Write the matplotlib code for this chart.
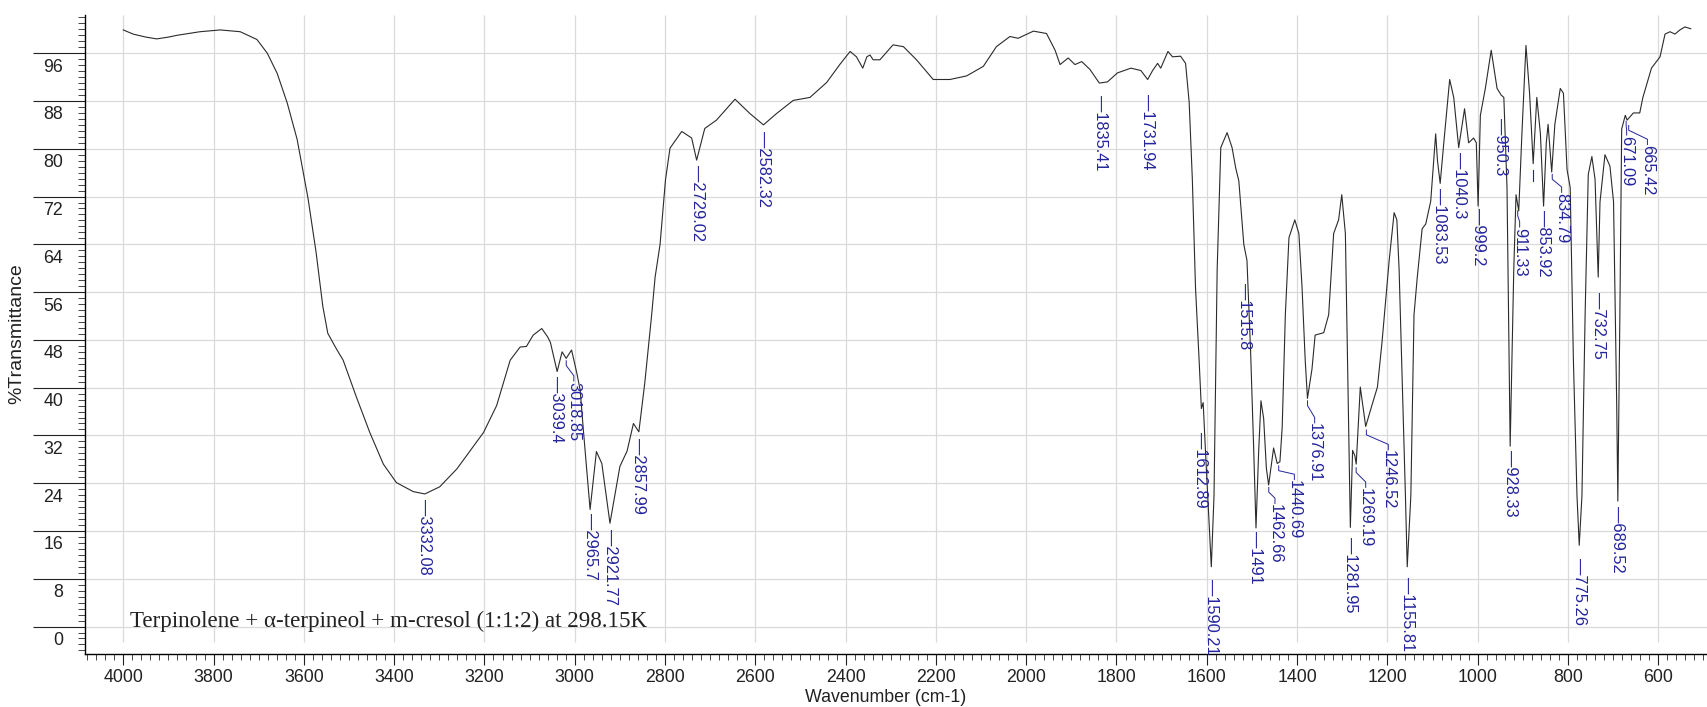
#FTIR spectrum of terpinolene + alpha-terpineol + m-cresol, OMNIC-like look
import matplotlib
matplotlib.use("Agg")
import matplotlib.pyplot as plt
from matplotlib.ticker import MultipleLocator
from matplotlib.transforms import ScaledTranslation

#spectrum (cm-1, %T)
wavenumber = [4000, 3978, 3950, 3926, 3900, 3881, 3830, 3785, 3741, 3704, 3681, 3659, 3637, 3615,
              3602, 3591, 3573, 3558, 3547, 3528, 3513, 3484, 3454, 3424, 3395, 3358, 3332, 3299,
              3261, 3232, 3202, 3173, 3143, 3121, 3107, 3092, 3073, 3060, 3054, 3039, 3028, 3019,
              3007, 2995, 2988, 2981, 2966, 2952, 2940, 2922, 2900, 2884, 2870, 2858, 2845, 2830,
              2822, 2811, 2799, 2789, 2763, 2741, 2730, 2712, 2686, 2645, 2612, 2582, 2553, 2516,
              2479, 2442, 2413, 2390, 2376, 2362, 2353, 2346, 2339, 2324, 2295, 2272, 2243, 2206,
              2169, 2132, 2095, 2066, 2036, 2018, 1984, 1955, 1936, 1925, 1907, 1892, 1877, 1859,
              1838, 1820, 1798, 1768, 1746, 1731, 1720, 1709, 1702, 1686, 1676, 1658, 1647, 1639,
              1632, 1625, 1617, 1612, 1608, 1603, 1595, 1590, 1584, 1577, 1569, 1555, 1544, 1536,
              1529, 1518, 1511, 1503, 1496, 1491, 1485, 1480, 1474, 1468, 1463, 1452, 1444, 1438,
              1433, 1426, 1418, 1405, 1396, 1389, 1382, 1377, 1367, 1360, 1341, 1330, 1319, 1308,
              1301, 1293, 1290, 1282, 1277, 1272, 1269, 1260, 1248, 1234, 1222, 1212, 1196, 1185,
              1179, 1174, 1167, 1160, 1156, 1148, 1141, 1134, 1123, 1115, 1104, 1093, 1089, 1083,
              1075, 1062, 1053, 1042, 1029, 1020, 1009, 1003, 999, 994, 983, 970, 957, 948,
              942, 935, 928, 920, 915, 909, 902, 893, 885, 877, 869, 861, 854, 848,
              844, 836, 829, 817, 810, 802, 795, 788, 780, 775, 769, 762, 755, 747,
              740, 733, 729, 718, 707, 699, 692, 689.5, 685, 681, 673, 669, 655, 641,
              634, 615, 596, 585, 574, 563, 552, 541, 528]
transmittance = [99.9, 99.2, 98.7, 98.4, 98.7, 99.0, 99.6, 99.9, 99.6, 98.3, 96.0, 92.6, 87.7, 81.6,
                 76.3, 71.8, 62.7, 53.6, 49.1, 46.5, 44.6, 38.5, 32.5, 27.2, 24.1, 22.6, 22.2, 23.4,
                 26.4, 29.4, 32.5, 37.0, 44.6, 46.8, 46.9, 48.8, 49.9, 48.5, 47.6, 42.7, 46.0, 44.9,
                 46.3, 42.3, 39.6, 33.0, 19.6, 29.3, 27.3, 17.3, 26.8, 29.4, 34.0, 32.6, 40.7, 51.9,
                 58.5, 64.0, 74.8, 80.1, 82.9, 81.8, 78.1, 83.4, 84.8, 88.3, 85.9, 84.0, 85.9, 88.1,
                 88.6, 91.1, 94.1, 96.3, 95.4, 93.5, 95.4, 95.7, 94.9, 94.9, 97.4, 97.1, 94.9, 91.6,
                 91.6, 92.2, 93.8, 97.1, 98.8, 98.5, 99.7, 99.3, 96.5, 94.1, 95.2, 94.1, 94.6, 93.3,
                 91.0, 91.2, 92.7, 93.5, 93.1, 91.6, 93.1, 94.3, 93.5, 96.3, 95.4, 95.5, 94.3, 87.8,
                 74.9, 56.8, 44.6, 36.5, 37.5, 29.5, 17.4, 10.0, 21.9, 59.8, 80.2, 82.7, 80.2, 76.8,
                 74.6, 64.0, 61.3, 46.2, 29.5, 16.5, 29.5, 37.8, 34.8, 26.5, 23.7, 29.9, 27.3, 27.6,
                 33.3, 52.2, 65.1, 68.1, 65.8, 56.8, 44.6, 38.2, 43.1, 48.8, 49.2, 52.2, 65.8, 68.1,
                 72.3, 65.8, 52.2, 16.6, 29.5, 28.6, 27.2, 40.1, 33.5, 37.1, 40.1, 47.5, 61.3, 69.3,
                 68.1, 59.8, 40.8, 21.9, 10.0, 21.9, 52.2, 58.3, 66.6, 67.4, 71.2, 82.5, 78.0, 74.2,
                 81.0, 91.6, 88.6, 80.2, 86.7, 81.0, 81.8, 81.0, 70.4, 85.6, 90.1, 96.5, 90.1, 89.0,
                 88.6, 73.5, 30.2, 59.8, 72.3, 69.6, 82.5, 97.3, 89.3, 77.5, 88.6, 82.5, 70.4, 81.0,
                 84.1, 76.1, 84.1, 90.1, 89.3, 76.5, 73.5, 44.8, 21.9, 13.6, 21.9, 52.2, 75.7, 78.7,
                 74.9, 58.5, 71.1, 79.0, 77.1, 71.1, 37.1, 21.0, 52.2, 83.3, 85.6, 84.8, 86.0, 86.0,
                 88.6, 93.5, 95.4, 99.2, 99.6, 99.2, 99.9, 100.4, 100.1]

#peak labels hanging straight under the band: text, position (cm-1), %T at top of the dash
label_text = ["3332.08", "3039.4", "2965.7", "2921.77", "2857.99", "2729.02", "2582.32",
              "1835.41", "1731.94", "1612.89", "1590.21", "1515.8", "1491", "1281.95",
              "1155.81", "1083.53", "1040.3", "999.2", "950.3", "928.33", "853.92",
              "775.26", "732.75", "689.52"]
label_pos = [3332.08, 3039.4, 2965.7, 2921.77, 2857.99, 2729.02, 2582.32,
             1835.41, 1731.94, 1612.89, 1590.21, 1515.8, 1491, 1281.95,
             1155.81, 1083.53, 1040.3, 999.2, 950.3, 928.33, 853.92,
             775.26, 732.75, 689.52]
label_top = [21.4, 42.0, 19.0, 16.4, 31.5, 77.2, 83.0,
             89.0, 89.2, 32.5, 8.0, 57.5, 16.0, 15.0,
             8.3, 73.4, 79.5, 70.0, 85.2, 29.6, 69.7,
             11.5, 56.0, 20.2]

#labels moved sideways with a small bent leader
bent_text = ["3018.85", "1462.66", "1440.69", "1376.91", "1269.19", "1246.52",
             "911.33", "834.79", "671.09", "665.42"]
bent_peak = [3018.85, 1462.66, 1440.69, 1376.91, 1269.19, 1246.52, 911.33, 834.79, 671.09, 665.42]
bent_peak_T = [44.9, 23.7, 27.3, 38.2, 27.0, 33.3, 70.0, 76.1, 85.0, 84.3]
bent_x = [3002, 1449, 1406, 1361, 1248, 1198, 907, 814, 670, 624]
bent_top = [41.0, 20.5, 24.5, 34.0, 23.2, 29.5, 66.8, 72.6, 82.2, 80.6]

x_grid = [4000, 3800, 3600, 3400, 3200, 3000, 2800, 2600, 2400, 2200, 2000,
          1800, 1600, 1400, 1200, 1000, 800, 600]

blue = "#24249c"
px = 0.72  #points per pixel at dpi 100

fig = plt.figure(figsize=(17.07, 7.07), dpi=100)
ax = fig.add_axes([85/1707, 53/707, 1 - 85/1707, 639/707])

ax.set_xlim(4084.8, 492)
ax.set_ylim(-4.6, 102.4)

#grid: horizontal across, vertical stopping a bit above the axis
ax.grid(True, axis="y", color="#dadada", lw=0.9)
ax.vlines(x_grid, -2.6, 102.4, color="#dadada", lw=0.9, zorder=0)

ax.plot(wavenumber, transmittance, color="#2b2b2b", lw=0.8, zorder=3)

for t, x, top in zip(label_text, label_pos, label_top):
    ax.text(x, top, "\u2014" + t, rotation=-90, ha="center", va="top",
            color=blue, fontsize=11.8, family="Liberation Sans", zorder=4)

for t, pk, tp, x, top in zip(bent_text, bent_peak, bent_peak_T, bent_x, bent_top):
    ax.plot([pk, pk, x, x], [tp - 0.4, tp - 1.2, top + 1.0, top + 0.1],
            color=blue, lw=0.7, zorder=4)
    ax.text(x, top, t, rotation=-90, ha="center", va="top",
            color=blue, fontsize=11.8, family="Liberation Sans", zorder=4)

#lone marker without a number
ax.plot([877, 877], [76.5, 74.6], color=blue, lw=0.8, zorder=4)

ax.text(3985, 0.8, "Terpinolene + \u03b1-terpineol + m-cresol (1:1:2) at 298.15K",
        family="Liberation Serif", fontsize=16.6, ha="left", va="center", color="#222222")

#axes look
for side in ["top", "right"]:
    ax.spines[side].set_visible(False)
ax.spines["left"].set_linewidth(1.0)
ax.spines["bottom"].set_linewidth(1.0)

ax.xaxis.set_major_locator(MultipleLocator(200))
ax.xaxis.set_minor_locator(MultipleLocator(20))
ax.yaxis.set_major_locator(MultipleLocator(8))
ax.yaxis.set_minor_locator(MultipleLocator(1))

ax.tick_params(axis="x", which="major", length=11*px, width=0.8, pad=4*px,
               labelsize=12.8, colors="#222222")
ax.tick_params(axis="x", which="minor", length=6*px, width=0.7, colors="#444444")
ax.tick_params(axis="y", which="major", length=52*px, width=0.8, pad=-30*px,
               labelsize=12.8, colors="#222222")
ax.tick_params(axis="y", which="minor", length=7*px, width=0.7, colors="#444444")

for lab in ax.get_xticklabels() + ax.get_yticklabels():
    lab.set_family("Liberation Sans")

fig.canvas.draw()
#OMNIC puts the %T numbers just under their tick line
shift = ScaledTranslation(0, -0.12, fig.dpi_scale_trans)
for tick in ax.yaxis.get_major_ticks():
    tick.label1.set_transform(tick.label1.get_transform() + shift)

fig.text(17/1707, 1 - 334/707, "%Transmittance", rotation=90, ha="center", va="center",
         fontsize=14, family="Liberation Sans", color="#222222")
fig.text(886/1707, 1 - 697/707, "Wavenumber (cm-1)", ha="center", va="center",
         fontsize=12.8, family="Liberation Sans", color="#222222")

fig.savefig("out.png", dpi=100)
